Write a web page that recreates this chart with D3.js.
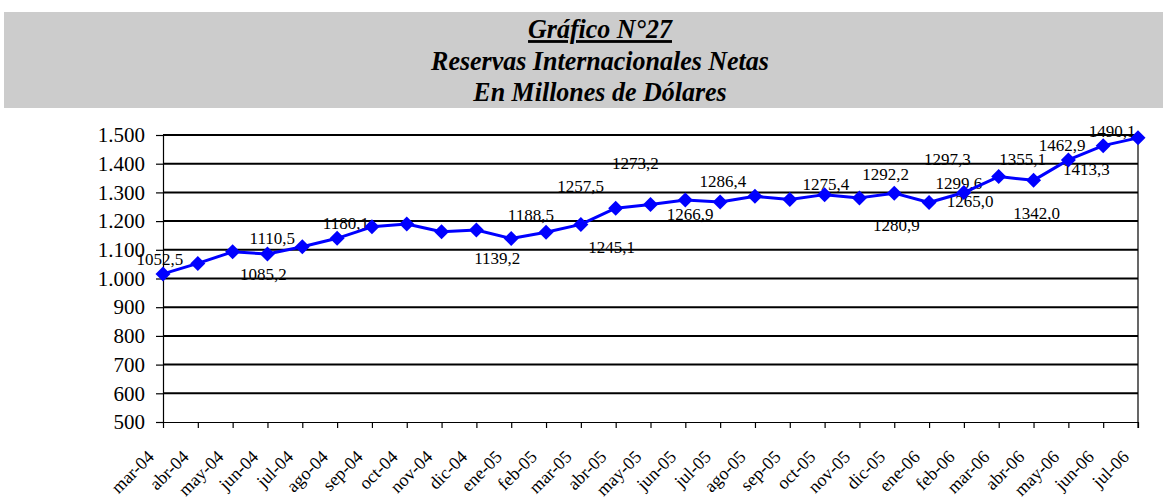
<!DOCTYPE html>
<html>
<head>
<meta charset="utf-8">
<script src="https://cdn.jsdelivr.net/npm/d3@7"></script>
<style>
  html, body { margin: 0; padding: 0; background: #fff; }
  svg { display: block; }
  text { font-family: "Liberation Serif", "Times New Roman", serif; }
</style>
</head>
<body>
<svg id="chart" width="1167" height="499"></svg>
<script>
// Reservas Internacionales Netas, en millones de dólares (mar-04 a jul-06)
const months = [
  "mar-04","abr-04","may-04","jun-04","jul-04","ago-04","sep-04","oct-04","nov-04","dic-04",
  "ene-05","feb-05","mar-05","abr-05","may-05","jun-05","jul-05","ago-05","sep-05","oct-05",
  "nov-05","dic-05","ene-06","feb-06","mar-06","abr-06","may-06","jun-06","jul-06"
];
const reserves = [
  1016.0, 1052.5, 1093.0, 1085.2, 1110.5, 1140.0, 1180.1, 1190.0, 1163.0, 1169.0,
  1139.2, 1161.0, 1188.5, 1245.1, 1257.5, 1273.2, 1266.9, 1286.4, 1275.4, 1292.2,
  1280.9, 1297.3, 1265.0, 1299.6, 1355.1, 1342.0, 1413.3, 1462.9, 1490.1
];
// which points carry a value label
const labelShown = [
  false, true, false, true, true, false, true, false, false, false,
  true, false, true, true, true, true, true, true, true, true,
  true, true, true, true, true, true, true, true, true
];
const yTicks = [500, 600, 700, 800, 900, 1000, 1100, 1200, 1300, 1400, 1500];
const titleLines = ["Gráfico N°27", "Reservas Internacionales Netas", "En Millones de Dólares"];

// hand-placed label offsets from each point (text centre, baseline)
const labelOffsets = [
  null, [-38, 2], null, [-4, 26], [-30, -3], null, [-26, 2], null, null, null,
  [-14, 25], null, [-50, -3], [-4, 45], [-70, -13], [-50, -31], [-30, 18], [-32, -9], [36, -9], [61, -15],
  [37, 33], [53, -28], [41, 5], [-5, -4], [24, -12], [3, 39], [18, 15], [-41, 5], [-26, -1]
];

const locale = d3.formatLocale({ decimal: ",", thousands: ".", grouping: [3], currency: ["", ""] });
const fmtTick = locale.format(",");
const fmtVal = locale.format(".1f");

const svg = d3.select("#chart");

// title band
svg.append("rect")
  .attr("x", 4).attr("y", 12).attr("width", 1159).attr("height", 96)
  .attr("fill", "#cccccc");

const titleY = [38, 70, 101];
svg.append("g").selectAll("text")
  .data(titleLines)
  .join("text")
  .attr("transform", (d, i) => `translate(600,${titleY[i]}) scale(1,1.08)`)
  .attr("text-anchor", "middle")
  .attr("font-size", 26)
  .attr("font-weight", "bold")
  .attr("font-style", "italic")
  .attr("fill", "#000")
  .style("text-decoration", (d, i) => i === 0 ? "underline" : null)
  .text(d => d);

// plot frame
const plotLeft = 163, plotRight = 1138, plotTop = 135, plotBottom = 422;
const x = d3.scalePoint().domain(months).range([plotLeft, plotRight]);
const y = d3.scaleLinear().domain([500, 1500]).range([plotBottom, plotTop]);

// value labels (sit underneath the grid and the series)
svg.append("g").selectAll("text")
  .data(reserves.map((v, i) => ({ v, i })).filter(d => labelShown[d.i]))
  .join("text")
  .attr("x", d => x(months[d.i]) + labelOffsets[d.i][0])
  .attr("y", d => y(d.v) + labelOffsets[d.i][1])
  .attr("text-anchor", "middle")
  .attr("font-size", 17)
  .attr("fill", "#000")
  .text(d => fmtVal(d.v));

// horizontal grid
svg.append("g").selectAll("line")
  .data(yTicks.filter(t => t > 500))
  .join("line")
  .attr("x1", plotLeft).attr("x2", plotRight)
  .attr("y1", d => y(d)).attr("y2", d => y(d))
  .attr("stroke", "#000").attr("stroke-width", 2);

// y axis
const yAxis = d3.axisLeft(y).tickValues(yTicks).tickFormat(fmtTick).tickSize(7).tickPadding(11);
const gy = svg.append("g").attr("transform", `translate(${plotLeft},0)`).call(yAxis);
gy.select(".domain").attr("stroke", "#000").attr("stroke-width", 1.2);
gy.selectAll(".tick line").attr("stroke", "#000").attr("stroke-width", 1.2);
gy.selectAll(".tick text")
  .attr("font-family", "Liberation Serif, Times New Roman, serif")
  .attr("font-size", 21).attr("fill", "#000");

// x axis
const xAxis = d3.axisBottom(x).tickSize(6).tickFormat("").tickSizeOuter(0);
const gx = svg.append("g").attr("transform", `translate(0,${plotBottom})`).call(xAxis);
gx.select(".domain").attr("stroke", "#000").attr("stroke-width", 1.2);
gx.selectAll(".tick line").attr("stroke", "#000").attr("stroke-width", 1.2);

svg.append("g").selectAll("text")
  .data(months)
  .join("text")
  .attr("transform", d => `translate(${x(d) - 8},${plotBottom + 36}) rotate(-45)`)
  .attr("text-anchor", "end")
  .attr("font-size", 18)
  .attr("fill", "#000")
  .text(d => d);

// right border
svg.append("line")
  .attr("x1", plotRight).attr("x2", plotRight)
  .attr("y1", plotTop).attr("y2", plotBottom + 6)
  .attr("stroke", "#000").attr("stroke-width", 1.2);

// series line
svg.append("path")
  .datum(reserves)
  .attr("fill", "none")
  .attr("stroke", "#0000ff")
  .attr("stroke-width", 3)
  .attr("stroke-linejoin", "round")
  .attr("d", d3.line().x((d, i) => x(months[i])).y(d => y(d)));

// diamond markers
svg.append("g").selectAll("path")
  .data(reserves)
  .join("path")
  .attr("transform", (d, i) => `translate(${x(months[i])},${y(d)})`)
  .attr("d", "M0,-7.5L7.5,0L0,7.5L-7.5,0Z")
  .attr("fill", "#0000ff");
</script>
</body>
</html>
